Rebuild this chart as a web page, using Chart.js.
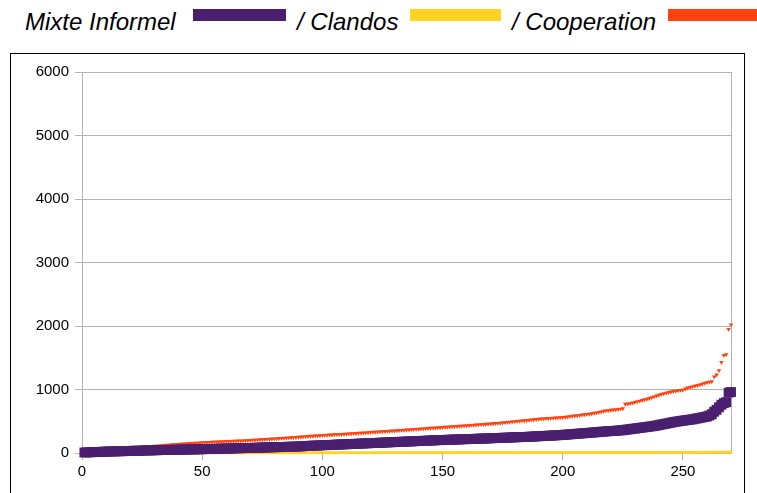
<!DOCTYPE html>
<html>
<head>
<meta charset="utf-8">
<script src="https://cdn.jsdelivr.net/npm/chart.js@4/dist/chart.umd.min.js"></script>
<style>
  body { margin: 0; background: #fff; width: 757px; height: 493px; overflow: hidden; position: relative; font-family: "Liberation Sans", Arial, sans-serif; }
  #frame { position: absolute; left: 10px; top: 53px; width: 735px; height: 460px; border: 1px solid #000; box-sizing: border-box; }
  #chart { position: absolute; left: 0; top: 0; }
  .lbl { position: absolute; top: 10px; font-style: italic; font-size: 24px; line-height: 24px; color: #000; white-space: nowrap; }
  .box { position: absolute; top: 9px; height: 12px; }
</style>
</head>
<body>
<div id="frame"></div>
<span class="lbl" style="left:25px">Mixte Informel</span>
<div class="box" style="left:193px;width:93px;background:#4b1f6f"></div>
<span class="lbl" style="left:297px">/ Clandos</span>
<div class="box" style="left:410px;width:91px;background:#ffd320"></div>
<span class="lbl" style="left:512px">/ Cooperation</span>
<div class="box" style="left:668px;width:95px;background:#ff420e"></div>
<canvas id="chart" width="757" height="493"></canvas>
<script>
const seriesNames = ['Mixte Informel', 'Clandos', 'Cooperation'];
const xTicks = [0, 50, 100, 150, 200, 250];
const yTicks = [0, 1000, 2000, 3000, 4000, 5000, 6000];

// sorted values, rank 1..270
const mixteInformel = [
  8, 10, 11, 13, 14, 16, 17, 19, 20, 22,
  23, 24, 25, 26, 27, 28, 29, 30, 31, 33,
  34, 35, 36, 37, 38, 39, 40, 41, 42, 43,
  44, 45, 46, 47, 48, 48, 49, 50, 51, 52,
  53, 53, 54, 55, 56, 57, 57, 58, 59, 60,
  61, 62, 63, 64, 65, 66, 67, 68, 69, 70,
  71, 72, 73, 74, 75, 76, 77, 78, 79, 80,
  81, 82, 83, 84, 86, 87, 88, 89, 90, 91,
  92, 93, 94, 95, 97, 98, 99, 100, 101, 103,
  104, 107, 110, 112, 113, 115, 117, 118, 120, 122,
  123, 125, 127, 128, 130, 132, 133, 135, 137, 138,
  140, 142, 143, 145, 147, 148, 150, 152, 153, 155,
  157, 158, 160, 162, 163, 165, 167, 168, 170, 172,
  173, 175, 177, 178, 180, 182, 183, 185, 187, 188,
  190, 192, 193, 195, 197, 198, 200, 202, 203, 205,
  206, 208, 209, 210, 212, 213, 214, 216, 217, 218,
  220, 221, 222, 224, 225, 226, 228, 229, 230, 232,
  233, 235, 236, 238, 239, 241, 242, 244, 245, 247,
  248, 250, 251, 252, 254, 256, 258, 260, 262, 264,
  266, 268, 270, 272, 274, 276, 278, 280, 282, 285,
  288, 291, 294, 297, 300, 303, 306, 309, 312, 315,
  318, 321, 324, 327, 330, 334, 337, 340, 343, 346,
  348, 350, 353, 356, 360, 365, 370, 375, 380, 385,
  390, 395, 400, 405, 410, 415, 420, 425, 432, 440,
  448, 455, 462, 470, 478, 485, 492, 498, 504, 510,
  515, 520, 525, 530, 538, 545, 552, 560, 567, 575,
  590, 610, 650, 680, 720, 760, 785, 800, 950, 960
];

const clandos = [
  0, 0, 0, 0, 0, 0, 0, 0, 0, 0,
  0, 0, 0, 0, 0, 1, 1, 1, 1, 1,
  1, 1, 1, 1, 1, 1, 1, 1, 1, 1,
  1, 1, 1, 1, 2, 2, 2, 2, 2, 2,
  2, 2, 2, 2, 2, 2, 2, 2, 2, 2,
  2, 3, 3, 3, 3, 3, 3, 3, 3, 3,
  3, 3, 3, 3, 3, 3, 3, 3, 3, 3,
  3, 3, 3, 4, 4, 4, 4, 4, 4, 4,
  4, 4, 4, 4, 4, 4, 4, 4, 4, 4,
  4, 4, 4, 4, 4, 5, 5, 5, 5, 5,
  5, 5, 5, 5, 5, 5, 5, 5, 5, 5,
  5, 5, 5, 5, 5, 5, 5, 5, 5, 5,
  5, 5, 5, 6, 6, 6, 6, 6, 6, 6,
  6, 6, 6, 6, 6, 6, 6, 6, 6, 6,
  6, 6, 6, 6, 6, 6, 6, 6, 6, 6,
  6, 6, 6, 6, 7, 7, 7, 7, 7, 7,
  7, 7, 7, 7, 7, 7, 7, 7, 7, 7,
  7, 7, 7, 7, 7, 7, 7, 7, 7, 7,
  7, 7, 7, 7, 7, 7, 8, 8, 8, 8,
  8, 8, 8, 8, 8, 8, 8, 8, 8, 8,
  8, 8, 8, 8, 8, 8, 8, 8, 8, 8,
  8, 8, 8, 8, 8, 8, 8, 8, 9, 9,
  9, 9, 9, 9, 9, 9, 9, 9, 9, 9,
  9, 9, 9, 9, 9, 9, 9, 9, 9, 10,
  10, 10, 10, 10, 10, 10, 10, 10, 10, 10,
  10, 10, 10, 10, 10, 11, 11, 11, 11, 11,
  11, 11, 12, 12, 12, 12, 13, 13, 14, 15
];

const cooperation = [
  15, 18, 21, 25, 28, 31, 35, 38, 41, 45,
  48, 51, 54, 57, 60, 63, 66, 69, 72, 75,
  78, 82, 85, 88, 91, 95, 100, 102, 105, 108,
  111, 114, 117, 120, 124, 127, 130, 132, 135, 138,
  141, 143, 146, 148, 151, 153, 156, 158, 161, 163,
  165, 167, 169, 171, 173, 175, 177, 179, 181, 183,
  184, 185, 187, 189, 191, 192, 194, 196, 198, 200,
  202, 205, 207, 210, 212, 215, 217, 220, 222, 225,
  227, 230, 232, 235, 237, 240, 242, 245, 247, 250,
  255, 257, 260, 262, 265, 267, 270, 272, 275, 277,
  280, 282, 285, 287, 290, 292, 294, 296, 298, 300,
  303, 305, 308, 310, 313, 315, 318, 320, 323, 325,
  328, 330, 333, 335, 338, 340, 343, 345, 348, 350,
  353, 356, 358, 361, 364, 366, 369, 372, 375, 377,
  380, 383, 386, 388, 391, 394, 396, 399, 401, 404,
  407, 409, 412, 415, 418, 420, 423, 426, 429, 432,
  434, 437, 440, 443, 446, 449, 452, 455, 457, 460,
  463, 466, 469, 472, 476, 480, 484, 488, 492, 496,
  500, 505, 508, 510, 514, 518, 522, 526, 530, 534,
  537, 540, 543, 546, 548, 551, 554, 556, 559, 562,
  566, 570, 575, 580, 585, 590, 595, 600, 605, 610,
  615, 620, 628, 635, 642, 650, 660, 665, 670, 675,
  680, 684, 688, 693, 700, 770, 775, 780, 790, 800,
  810, 820, 830, 840, 850, 860, 875, 887, 900, 912,
  925, 935, 945, 955, 962, 970, 976, 982, 988, 992,
  1010, 1025, 1035, 1045, 1055, 1065, 1075, 1085, 1100, 1110,
  1118, 1125, 1200, 1230, 1300, 1430, 1540, 1550, 1950, 2020
];

const toPoints = arr => arr.map((v, i) => ({ x: i + 1, y: v }));

const gridColor = '#b3b3b3';
const tickFont = { family: '"Liberation Sans", Arial, sans-serif', size: 15 };

// right edge of the plot area is framed by a grey line
const rightEdge = {
  id: 'rightEdge',
  beforeDatasetsDraw(chart) {
    const { ctx, chartArea } = chart;
    ctx.save();
    ctx.strokeStyle = gridColor;
    ctx.lineWidth = 1;
    ctx.beginPath();
    ctx.moveTo(Math.round(chartArea.right) + 0.5, chartArea.top);
    ctx.lineTo(Math.round(chartArea.right) + 0.5, chartArea.bottom);
    ctx.stroke();
    ctx.restore();
  }
};

new Chart(document.getElementById('chart'), {
  type: 'scatter',
  data: {
    datasets: [
      {
        label: seriesNames[0],
        data: toPoints(mixteInformel),
        pointStyle: 'rect',
        pointRadius: 7,
        pointBorderWidth: 0,
        backgroundColor: '#4b1f6f',
        borderColor: '#4b1f6f',
        clip: false
      },
      {
        label: seriesNames[1],
        data: toPoints(clandos),
        pointStyle: 'rect',
        pointRadius: 2,
        pointBorderWidth: 0,
        backgroundColor: '#ffd320',
        borderColor: '#ffd320',
        clip: false
      },
      {
        label: seriesNames[2],
        data: toPoints(cooperation),
        pointStyle: 'triangle',
        pointRotation: 180,
        pointRadius: 2.6,
        pointBorderWidth: 0,
        backgroundColor: '#ff420e',
        borderColor: '#ff420e',
        clip: false
      }
    ]
  },
  options: {
    responsive: false,
    animation: false,
    layout: { padding: { top: 72, right: 26, bottom: 0, left: 0 } },
    plugins: {
      legend: { display: false },
      tooltip: { enabled: false }
    },
    scales: {
      x: {
        type: 'linear',
        min: 0,
        max: 270,
        afterFit: s => { s.height = 40; },
        afterBuildTicks: s => { s.ticks = xTicks.map(v => ({ value: v })); },
        ticks: {
          includeBounds: false,
          color: '#000',
          padding: 3,
          maxRotation: 0,
          font: tickFont,
          callback: v => String(v)
        },
        grid: { drawOnChartArea: false, color: gridColor, tickLength: 7 },
        border: { color: gridColor }
      },
      y: {
        min: 0,
        max: 6000,
        afterFit: s => { s.width = 82; },
        afterBuildTicks: s => { s.ticks = yTicks.map(v => ({ value: v })); },
        ticks: {
          color: '#000',
          padding: 6,
          font: tickFont,
          callback: v => String(v)
        },
        grid: { color: gridColor, tickLength: 7 },
        border: { color: gridColor }
      }
    }
  },
  plugins: [rightEdge]
});
</script>
</body>
</html>
